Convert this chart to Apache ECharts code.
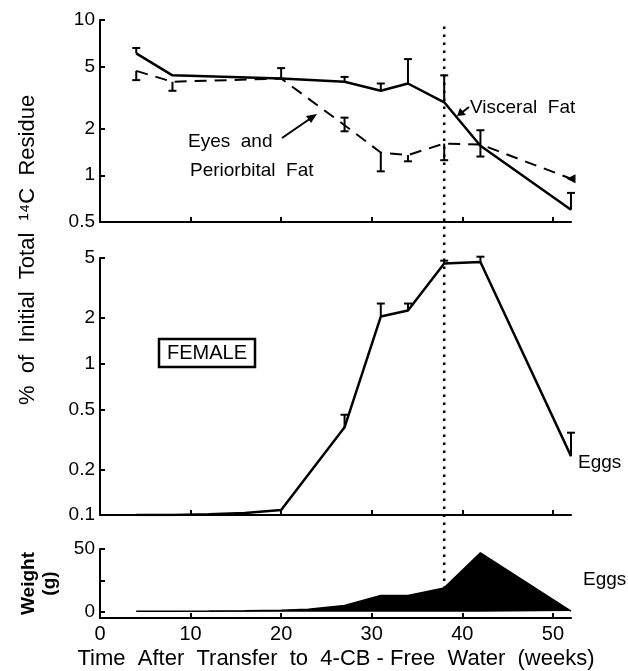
<!DOCTYPE html>
<html>
<head>
<meta charset="utf-8">
<script src="https://cdn.jsdelivr.net/npm/echarts@6/dist/echarts.min.js"></script>
<style>
html, body { margin: 0; padding: 0; background: #fff; }
#main { width: 628px; height: 671px; }
</style>
</head>
<body>
<div id="main"></div>
<script>
// fat residues (top panel), weeks after transfer
var fatWeeks = [4, 8, 20, 27, 31, 34, 38, 42, 52];
var visceral = [6.1, 4.4, 4.2, 4.0, 3.5, 3.9, 2.95, 1.55, 0.6];
var visceralHigh = [6.6, null, 4.9, 4.3, 3.9, 5.6, 4.4, 1.95, 0.77];
var visceralLow = [null, null, null, null, null, null, null, 1.32, null];
var eyes = [4.7, 4.0, 4.2, 2.1, 1.4, 1.35, 1.6, 1.58, 0.95];
var eyesHigh = [null, null, null, 2.35, null, null, null, null, null];
var eyesLow = [4.1, 3.5, null, 1.92, 1.06, 1.23, 1.25, null, null];

// eggs residue (middle panel)
var eggWeeks = [4, 8, 12, 16, 20, 27, 31, 34, 38, 42, 52];
var eggs = [0.1, 0.1, 0.101, 0.103, 0.108, 0.38, 2.05, 2.25, 4.6, 4.7, 0.245];
var eggsHigh = [null, null, null, null, null, 0.46, 2.5, 2.5, 4.8, 5.1, 0.35];

// egg weight (bottom panel)
var weightWeeks = [4, 8, 12, 16, 20, 23, 27, 31, 34, 38, 42, 52];
var weight = [0.3, 0.4, 0.5, 0.8, 1.2, 2, 5, 13, 13, 19, 47, 0.5];

var topTicks = [0.5, 1, 2, 5, 10];
var midTicks = [0.1, 0.2, 0.5, 1, 2, 5];
var weightTicks = [0, 25, 50];
var weightLabels = [0, 50];
var xTicks = [10, 20, 30, 40, 50];
var xLabels = [0, 10, 20, 30, 40, 50];
var dropWeek = 38;

var FONT = 'Liberation Sans';
var L = function (v) { return Math.log10(v); };
var logFmt = function (v) { return String(+Math.pow(10, v).toPrecision(2)); };

function pairs(xs, ys, f) {
  return xs.map(function (x, i) { return [x, f ? f(ys[i]) : ys[i]]; });
}
function barRows(xs, ys, hi, lo) {
  return xs.map(function (x, i) {
    return [x, L(ys[i]), L(hi[i] == null ? ys[i] : hi[i]), L(lo && lo[i] != null ? lo[i] : ys[i])];
  });
}
function errorBars(idx, rows) {
  return {
    type: 'custom', xAxisIndex: idx, yAxisIndex: idx, z: 5, data: rows,
    renderItem: function (params, api) {
      var x = api.value(0);
      var mid = api.coord([x, api.value(1)]);
      var top = api.coord([x, api.value(2)]);
      var bot = api.coord([x, api.value(3)]);
      var st = { stroke: '#000', lineWidth: 2 };
      var kids = [{ type: 'line', shape: { x1: top[0], y1: top[1], x2: bot[0], y2: bot[1] }, style: st }];
      if (mid[1] - top[1] > 1) kids.push({ type: 'line', shape: { x1: top[0] - 4, y1: top[1], x2: top[0] + 4, y2: top[1] }, style: st });
      if (bot[1] - mid[1] > 1) kids.push({ type: 'line', shape: { x1: bot[0] - 4, y1: bot[1], x2: bot[0] + 4, y2: bot[1] }, style: st });
      return { type: 'group', children: kids };
    }
  };
}

var axisLine = { onZero: false, lineStyle: { color: '#000', width: 2 } };
function xAxisFor(idx, labels) {
  return {
    type: 'value', gridIndex: idx, min: 0, max: 52, show: idx < 3,
    axisLine: axisLine,
    axisTick: { inside: true, length: 5, lineStyle: { color: '#000', width: 2 }, customValues: xTicks },
    axisLabel: { show: labels, customValues: xLabels, color: '#000', fontSize: 20, fontFamily: FONT, margin: 6 },
    splitLine: { show: false }
  };
}
function logYAxis(idx, ticks) {
  var vals = ticks.map(L);
  return {
    type: 'value', gridIndex: idx, min: vals[0], max: vals[vals.length - 1],
    axisLine: axisLine,
    axisTick: { inside: true, length: 5, lineStyle: { color: '#000', width: 2 }, customValues: vals },
    axisLabel: { customValues: vals, formatter: logFmt, color: '#000', fontSize: 19, fontFamily: FONT, margin: 5 },
    splitLine: { show: false }
  };
}

var chart = echarts.init(document.getElementById('main'));
var option = {
  animation: false,
  backgroundColor: '#fff',
  grid: [
    { left: 100, width: 471, top: 20, height: 202 },
    { left: 100, width: 471, top: 258, height: 257 },
    { left: 100, width: 471, top: 549, height: 69 },
    { left: 100, width: 471, top: 23, height: 566 }
  ],
  xAxis: [xAxisFor(0, false), xAxisFor(1, false), xAxisFor(2, true), xAxisFor(3, false)],
  yAxis: [
    logYAxis(0, topTicks),
    logYAxis(1, midTicks),
    {
      type: 'value', gridIndex: 2, min: -5, max: 50,
      name: 'Weight\n(g)', nameLocation: 'middle', nameRotate: 90, nameGap: 40,
      nameTextStyle: { color: '#000', fontSize: 19, fontFamily: FONT, fontWeight: 'bold', lineHeight: 21 },
      axisLine: axisLine,
      axisTick: { inside: true, length: 5, lineStyle: { color: '#000', width: 2 }, customValues: weightTicks },
      axisLabel: { customValues: weightLabels, color: '#000', fontSize: 19, fontFamily: FONT, margin: 5 },
      splitLine: { show: false }
    },
    { type: 'value', gridIndex: 3, min: 0, max: 1, show: false }
  ],
  series: [
    {
      name: 'Visceral Fat', type: 'line', xAxisIndex: 0, yAxisIndex: 0,
      data: pairs(fatWeeks, visceral, L), symbol: 'none', z: 4,
      lineStyle: { color: '#000', width: 2.5 }
    },
    {
      name: 'Eyes and Periorbital Fat', type: 'line', xAxisIndex: 0, yAxisIndex: 0,
      data: pairs(fatWeeks, eyes, L).map(function (p, i) {
        return i === fatWeeks.length - 1 ? { value: p, symbol: 'triangle', symbolRotate: 90, symbolSize: 9 } : p;
      }),
      symbol: 'none', z: 4,
      itemStyle: { color: '#000' },
      lineStyle: { color: '#000', width: 2, type: [12, 8] }
    },
    errorBars(0, barRows(fatWeeks, visceral, visceralHigh, visceralLow)),
    errorBars(0, barRows(fatWeeks, eyes, eyesHigh, eyesLow)),
    {
      name: 'Eggs', type: 'line', xAxisIndex: 1, yAxisIndex: 1,
      data: pairs(eggWeeks, eggs, L), symbol: 'none',
      lineStyle: { color: '#000', width: 2.5 }
    },
    errorBars(1, barRows(eggWeeks, eggs, eggsHigh, null)),
    {
      name: 'Egg weight', type: 'line', xAxisIndex: 2, yAxisIndex: 2,
      data: pairs(weightWeeks, weight), symbol: 'none',
      lineStyle: { color: '#000', width: 1.5 },
      areaStyle: { color: '#000', opacity: 1 }
    },
    {
      type: 'line', xAxisIndex: 3, yAxisIndex: 3,
      data: [[dropWeek, 0], [dropWeek, 1]], symbol: 'none',
      lineStyle: { color: '#000', width: 2.5, type: [2.5, 5.5] }
    }
  ],
  graphic: [
    {
      type: 'text', x: 28, y: 250, rotation: Math.PI / 2,
      style: { text: '%  of  Initial  Total  \u00b9\u2074C  Residue', fill: '#000', fontSize: 22, fontFamily: FONT,
        align: 'center', verticalAlign: 'middle', textAlign: 'center', textVerticalAlign: 'middle' }
    },
    {
      type: 'text', x: 336, y: 659,
      style: { text: 'Time  After  Transfer  to  4-CB - Free  Water  (weeks)', fill: '#000', fontSize: 22, fontFamily: FONT,
        align: 'center', verticalAlign: 'middle', textAlign: 'center', textVerticalAlign: 'middle' }
    },
    { type: 'text', x: 188, y: 142, style: { text: 'Eyes  and', fill: '#000', fontSize: 19, fontFamily: FONT, verticalAlign: 'middle', textVerticalAlign: 'middle' } },
    { type: 'text', x: 190, y: 171, style: { text: 'Periorbital  Fat', fill: '#000', fontSize: 19, fontFamily: FONT, verticalAlign: 'middle', textVerticalAlign: 'middle' } },
    { type: 'line', shape: { x1: 282, y1: 138, x2: 314, y2: 116 }, style: { stroke: '#000', lineWidth: 2 } },
    { type: 'polygon', shape: { points: [[317, 114], [306, 116], [311, 123]] }, style: { fill: '#000' } },
    { type: 'text', x: 470, y: 108, style: { text: 'Visceral  Fat', fill: '#000', fontSize: 19, fontFamily: FONT, verticalAlign: 'middle', textVerticalAlign: 'middle' } },
    { type: 'line', shape: { x1: 469, y1: 107, x2: 460, y2: 114 }, style: { stroke: '#000', lineWidth: 2 } },
    { type: 'polygon', shape: { points: [[457, 116], [460, 108], [466, 115]] }, style: { fill: '#000' } },
    { type: 'rect', shape: { x: 159, y: 339, width: 96, height: 28 }, style: { fill: 'none', stroke: '#000', lineWidth: 2.5 } },
    { type: 'text', x: 207, y: 353, style: { text: 'FEMALE', fill: '#000', fontSize: 20, fontFamily: FONT,
        align: 'center', verticalAlign: 'middle', textAlign: 'center', textVerticalAlign: 'middle' } },
    { type: 'text', x: 578, y: 463, style: { text: 'Eggs', fill: '#000', fontSize: 19, fontFamily: FONT, verticalAlign: 'middle', textVerticalAlign: 'middle' } },
    { type: 'text', x: 583, y: 580, style: { text: 'Eggs', fill: '#000', fontSize: 19, fontFamily: FONT, verticalAlign: 'middle', textVerticalAlign: 'middle' } }
  ]
};
chart.setOption(option);
</script>
</body>
</html>
